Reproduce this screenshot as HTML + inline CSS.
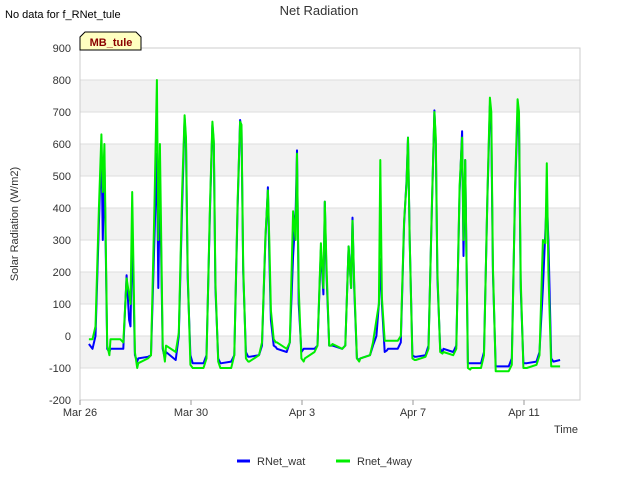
<!DOCTYPE html>
<html><head><meta charset="utf-8"><style>
body{margin:0;background:#fff;font-family:"Liberation Sans",sans-serif;}
svg text{font-family:"Liberation Sans",sans-serif;}
</style></head><body>
<svg id="chart" width="640" height="480">
<text x="5" y="18" font-size="11" fill="#000">No data for f_RNet_tule</text>
<text x="319" y="15" font-size="13" fill="#333" text-anchor="middle">Net Radiation</text>
<g id="plot"></g>
<g>
<path d="M80,50 L80,37 L85,32 L136,32 L141,37 L141,50 Z" fill="#ffffc0" stroke="#000" stroke-width="1"/>
<text x="111" y="46" font-size="11" font-weight="bold" fill="#8b0000" text-anchor="middle">MB_tule</text>
</g>
<text transform="translate(18,224) rotate(-90)" font-size="11" fill="#333" text-anchor="middle">Solar Radiation (W/m2)</text>
<text x="578" y="433" font-size="11" fill="#333" text-anchor="end">Time</text>
<g>
<line x1="237" y1="461" x2="250" y2="461" stroke="#0000ff" stroke-width="3"/>
<text x="257" y="465" font-size="11" fill="#333">RNet_wat</text></g>
<g>
<line x1="336" y1="461" x2="350" y2="461" stroke="#00ee00" stroke-width="3"/>
<text x="357" y="465" font-size="11" fill="#333">Rnet_4way</text></g>
</svg>
<script>
const yTicks=[-200,-100,0,100,200,300,400,500,600,700,800,900];
const xTickDays=[0,4,8,12,16];
const xTickLabels=["Mar 26","Mar 30","Apr 3","Apr 7","Apr 11"];
const dayFractions=[0.10,0.45,0.56,0.68,0.77,0.82,0.88,0.98,1.06];
const startDay=0.32, startWat=-25, start4way=-10;
const endDay=17.3, endWat=-75, end4way=-95;
const watDays=[
[null,-40,0,350,600,300,550,-40,-50],
[-40,-40,-40,190,50,30,330,-60,-80],
[-70,-65,-60,300,570,150,500,-40,-70],
[-50,-75,0,400,680,600,180,-60,-85],
[-85,-85,-60,380,660,600,150,-70,-85],
[-85,-80,-60,400,675,650,200,-50,-65],
[-65,-60,-30,300,465,250,50,-30,-35],
[-40,-50,-20,250,380,580,100,-50,-40],
[-40,-40,-30,270,130,420,200,-30,-30],
[-30,-40,-30,280,150,370,150,-70,-75],
[-70,-60,-30,0,100,240,100,-50,-45],
[-40,-40,-20,350,490,620,300,-60,-65],
[-65,-60,-30,400,705,600,180,-40,-50],
[-40,-50,-30,450,640,250,550,-85,-85],
[-85,-85,-50,430,720,650,200,-95,-95],
[-95,-95,-70,450,700,660,150,-85,-85],
[-85,-80,-50,150,330,430,300,-70,-80]];
const fourWayDays=[
[null,-10,30,400,630,450,600,-30,-60],
[-10,-10,-20,180,130,100,450,-50,-100],
[-85,-70,-60,400,800,300,600,-30,-80],
[-30,-50,10,450,690,620,200,-90,-100],
[-100,-100,-70,400,670,610,170,-80,-100],
[-100,-100,-60,420,670,660,220,-70,-80],
[-80,-60,-20,310,455,300,80,-10,-20],
[-20,-40,-20,390,300,570,150,-70,-80],
[-70,-50,-30,290,150,420,230,-30,-30],
[-25,-40,-30,280,150,360,170,-70,-80],
[-70,-60,-20,50,100,550,120,-15,-15],
[-15,-15,0,360,480,620,300,-70,-75],
[-75,-65,-40,410,700,620,200,-50,-55],
[-50,-60,-40,470,620,300,550,-100,-105],
[-100,-100,-60,440,745,700,220,-110,-110],
[-110,-110,-90,470,740,700,180,-100,-100],
[-100,-90,-60,300,290,540,200,-95,-95]];
const L=80,R=580,T=48,B=400,yMin=-200,yMax=900,dayPx=27.75;
const xs=d=>L+d*dayPx, ys=v=>B-(v-yMin)/(yMax-yMin)*(B-T);
const NS="http://www.w3.org/2000/svg";
const plot=document.getElementById('plot');
function mk(tag,attrs){const e=document.createElementNS(NS,tag);for(const k in attrs)e.setAttribute(k,attrs[k]);plot.appendChild(e);return e;}
for(let i=0;i<yTicks.length-1;i++){const v=yTicks[i];
 if([700,500,300,100,-100].includes(v)){const r=mk('rect',{x:L,y:ys(v+100),width:R-L,height:ys(v)-ys(v+100),fill:'#f2f2f2'});
 
 }}
yTicks.forEach(v=>{const g=mk('line',{x1:L,x2:R,y1:ys(v),y2:ys(v),stroke:'#dddddd','stroke-width':1});
 
 
 const t=mk('text',{x:L-9,y:ys(v)+4,'font-size':11,fill:'#333','text-anchor':'end'});t.textContent=v;
 
 });
const frame=mk('rect',{x:L,y:T,width:R-L,height:B-T,fill:'none',stroke:'#cccccc'});


xTickDays.forEach((d,i)=>{const tk=mk('line',{x1:xs(d),x2:xs(d),y1:B,y2:B+5,stroke:'#999'});
 
 
 const t=mk('text',{x:xs(d),y:B+16,'font-size':11,fill:'#333','text-anchor':'middle'});t.textContent=xTickLabels[i];
 
 });
function pts(days,sv,ev){const p=[[startDay,sv]];
 days.forEach((arr,d)=>arr.forEach((v,j)=>{if(v!==null)p.push([d+dayFractions[j],v]);}));
 p.push([endDay,ev]);return p.map(q=>xs(q[0]).toFixed(1)+','+ys(q[1]).toFixed(1)).join(' ');}
const l1=mk('polyline',{points:pts(watDays,startWat,endWat),fill:'none',stroke:'#0000ff','stroke-width':2,'stroke-linejoin':'round'});


const l2=mk('polyline',{points:pts(fourWayDays,start4way,end4way),fill:'none',stroke:'#00ee00','stroke-width':2,'stroke-linejoin':'round'});


</script>
</body></html>
